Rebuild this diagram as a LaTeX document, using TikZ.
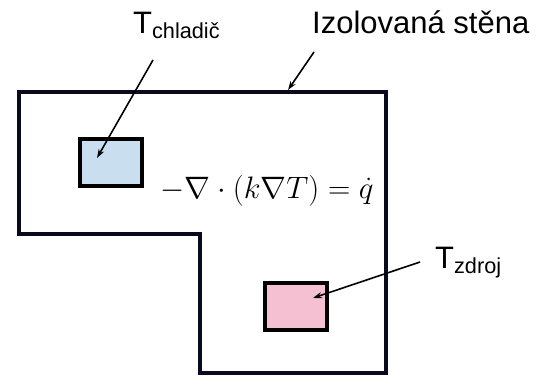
\RequirePackage{fix-cm}
\documentclass[tikz,border=0pt]{standalone}
\usepackage{fontspec}
\setsansfont{Liberation Sans}
\usepackage{amsmath}
\usetikzlibrary{arrows.meta, positioning}

\definecolor{wallcol}{HTML}{0A0A1E}
\definecolor{coldcol}{HTML}{C9DFF0}
\definecolor{hotcol}{HTML}{F6C0D3}

\begin{document}
\begin{tikzpicture}[
  x=1pt, y=-1pt,
  wall/.style={draw=wallcol, line width=4.5pt, line join=miter},
  block/.style={rectangle, draw=black, line width=4pt, minimum width=62pt, minimum height=47pt, inner sep=0pt},
  lbl/.style={font=\sffamily\fontsize{31}{33}\selectfont, inner sep=0pt, anchor=base west},
  pointer/.style={-{Stealth[length=9pt, width=6pt]}, line width=1.6pt}
]
  \useasboundingbox (0,0) rectangle (539,376);
  % domain with insulated wall
  \draw[wall] (19,92) -- (386,92) -- (386,373) -- (200,373) -- (200,234) -- (19,234) -- cycle;
  \node[block, fill=coldcol] (chladic) at (110.5,162) {};
  \node[block, fill=hotcol] (zdroj) at (296,306) {};
  \node[inner sep=0pt, anchor=base, font=\fontsize{31}{33}\selectfont] (rovnice) at (267,198) {$-\nabla\cdot(k\nabla T)=\dot{q}$};
  % labels
  \node[lbl] (tchl) at (133,33) {T\textsubscript{chladič}};
  \node[lbl] (stena) at (312,33) {Izolovaná stěna};
  \node[lbl] (tzdr) at (435,268) {T\textsubscript{zdroj}};
  \coordinate (stenabod) at (288,90);
  \draw[pointer] (153,60) -- (97,158);
  \draw[pointer] (314,52) -- (stenabod);
  \draw[pointer] (420,262) -- (313,298);
\end{tikzpicture}
\end{document}
